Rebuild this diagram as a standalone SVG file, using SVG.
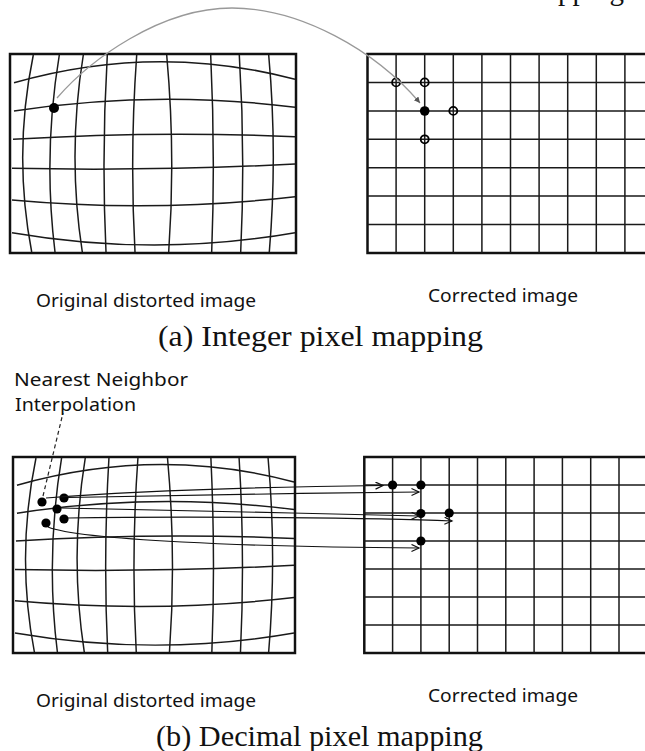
<svg xmlns="http://www.w3.org/2000/svg" xmlns:xlink="http://www.w3.org/1999/xlink" width="645" height="751" viewBox="0 0 645 751">
<style>
.bg{fill:#fff}
.grid{fill:none;stroke:#1a1a1a;stroke-width:1.5}
.border{fill:none;stroke:#111;stroke-width:2.5}
.lbl{font-family:"Noto Sans","Open Sans",sans-serif;font-size:18px;fill:#111}
.cap{font-family:"Liberation Serif","Times New Roman",serif;font-size:29px;fill:#111}
.dot{fill:#000}
.ring{fill:none;stroke:#000;stroke-width:1.8}
.arr{fill:none;stroke:#111;stroke-width:1.2}
.curve{fill:none;stroke:#999;stroke-width:1.3}
.dash{fill:none;stroke:#222;stroke-width:1.2;stroke-dasharray:4 3}
</style>
<defs>
<marker id="chev" markerUnits="userSpaceOnUse" markerWidth="10" markerHeight="10" refX="8" refY="4" orient="auto" viewBox="0 0 10 10">
<path d="M0.5,0.5 L8,4 L0.5,7.5" fill="none" stroke="#111" stroke-width="1.2"/>
</marker>
<marker id="tri" markerUnits="userSpaceOnUse" markerWidth="8" markerHeight="8" refX="6" refY="3" orient="auto" viewBox="0 0 8 8">
<path d="M0,0 L6,3 L0,6 Z" fill="#555"/>
</marker>
<g id="dgrid">
<rect class="border" x="10" y="54" width="286" height="199"/>
<path class="grid" d="M14,82.7 Q155.5,42.4 295,79.3 M14,111 Q155,89.5 295,107.3 M13,139.3 Q155,130.6 295,136.7 M12,168.3 Q155,171.2 295,164 M12,200 Q155,213 295,196.7 M12,232.7 Q155,257.3 295,232.7"/>
<path class="grid" d="M33.3,55 Q12.9,154 31.7,252 M59.3,55 Q42.9,154 55,252 M83.3,55 Q67.2,154 82.3,252 M107.3,55 Q101.4,154 106,252 M136.7,55 Q129.6,154 135,252 M166.7,55 Q175.7,154 168.7,252 M210.7,55 Q215.4,154 211.7,252 M239.3,55 Q245.4,154 240.7,252 M268.7,55 Q277.6,154 269.3,252"/>
</g>
</defs>
<rect class="bg" x="0" y="0" width="645" height="751"/>

<text class="cap" x="558" y="-0.5">pping</text>

<g id="top-original">
<use xlink:href="#dgrid"/>
<circle class="dot" cx="54" cy="108" r="5"/>
</g>

<g id="top-corrected">
<rect class="border" x="367.5" y="54" width="286" height="199"/>
<path class="grid" d="M396.1,54V253 M424.7,54V253 M453.3,54V253 M481.9,54V253 M510.5,54V253 M539.1,54V253 M567.7,54V253 M596.3,54V253 M624.9,54V253 M367.5,82.4H645 M367.5,110.9H645 M367.5,139.3H645 M367.5,167.7H645 M367.5,196.1H645 M367.5,224.6H645"/>
<circle class="ring" cx="396.1" cy="82.4" r="4"/>
<circle class="ring" cx="424.7" cy="82.4" r="4"/>
<circle class="ring" cx="453.3" cy="110.9" r="4"/>
<circle class="ring" cx="424.7" cy="139.3" r="4"/>
<circle class="dot" cx="424.7" cy="111" r="4.8"/>
</g>

<g id="bottom-original">
<use xlink:href="#dgrid" transform="translate(13,457) scale(0.986,0.985) translate(-10,-54)"/>
<circle class="dot" cx="42" cy="502" r="4.6"/>
<circle class="dot" cx="64" cy="498" r="4.6"/>
<circle class="dot" cx="57" cy="509" r="4.6"/>
<circle class="dot" cx="64" cy="519" r="4.6"/>
<circle class="dot" cx="46" cy="523" r="4.6"/>
</g>

<g id="bottom-corrected">
<rect class="border" x="364.3" y="457" width="283" height="196"/>
<path class="grid" d="M392.6,457V653 M420.9,457V653 M449.2,457V653 M477.5,457V653 M505.8,457V653 M534.1,457V653 M562.4,457V653 M590.7,457V653 M619,457V653 M364.3,485H645 M364.3,513H645 M364.3,541H645 M364.3,569H645 M364.3,597H645 M364.3,625H645"/>
<circle class="dot" cx="392.6" cy="485" r="4.6"/>
<circle class="dot" cx="420.9" cy="485" r="4.6"/>
<circle class="dot" cx="420.9" cy="513.5" r="4.6"/>
<circle class="dot" cx="449.2" cy="513" r="4.6"/>
<circle class="dot" cx="420.9" cy="541" r="4.6"/>
</g>

<g id="connectors">
<path class="curve" marker-end="url(#tri)" d="M57,98 C90,60 160,8 232,8 C300,8 375,50 420,103"/>
<path class="dash" d="M43,496 L63,413"/>
<path class="arr" marker-end="url(#chev)" d="M46,498 C120,492 250,487 383,485.5"/>
<path class="arr" marker-end="url(#chev)" d="M68,497.5 C150,496 300,493 419,492"/>
<path class="arr" marker-end="url(#chev)" d="M61,508 C150,510 300,513 419,516"/>
<path class="arr" marker-end="url(#chev)" d="M68,518 C200,516 380,518 452,521"/>
<path class="arr" marker-end="url(#chev)" d="M48,527 C80,540 250,547 419,548"/>
</g>

<g id="labels">
<text class="lbl" x="36" y="307" textLength="220" lengthAdjust="spacingAndGlyphs">Original distorted image</text>
<text class="lbl" x="428" y="302" textLength="150" lengthAdjust="spacingAndGlyphs">Corrected image</text>
<text class="cap" x="158" y="346" textLength="325" lengthAdjust="spacingAndGlyphs">(a) Integer pixel mapping</text>
<text class="lbl" x="14" y="386" textLength="174" lengthAdjust="spacingAndGlyphs">Nearest Neighbor</text>
<text class="lbl" x="15" y="411" textLength="121" lengthAdjust="spacingAndGlyphs">Interpolation</text>
<text class="lbl" x="36" y="707" textLength="220" lengthAdjust="spacingAndGlyphs">Original distorted image</text>
<text class="lbl" x="428" y="702" textLength="150" lengthAdjust="spacingAndGlyphs">Corrected image</text>
<text class="cap" x="156" y="746" textLength="327" lengthAdjust="spacingAndGlyphs">(b) Decimal pixel mapping</text>
</g>
</svg>
